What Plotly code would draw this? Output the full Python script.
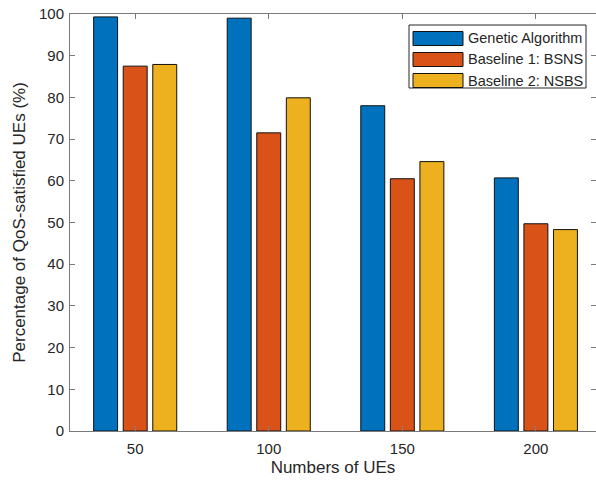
import plotly.graph_objects as go

ues = [50, 100, 150, 200]
ga = [99.3, 99.0, 78.0, 60.7]
bsns = [87.5, 71.5, 60.5, 49.7]
nsbs = [87.9, 79.9, 64.6, 48.3]
series_names = ["Genetic Algorithm", "Baseline 1: BSNS", "Baseline 2: NSBS"]
colors = ["#0072BD", "#D95319", "#EDB120"]
yticks = list(range(0, 101, 10))

FONT = "Liberation Sans, Arial, sans-serif"
TXT = "#262626"
AX = "#7a7a7a"
W, H = 596, 484
L, T, B = 70, 14, 53
PW, PH = W - L, H - T - B

fig = go.Figure()
for name, vals, col in zip(series_names, [ga, bsns, nsbs], colors):
    fig.add_trace(go.Bar(x=ues, y=vals, name=name,
                         marker=dict(color=col, line=dict(color="#111111", width=1)),
                         showlegend=False))

fig.update_layout(
    width=W, height=H,
    margin=dict(l=L, r=0, t=T, b=B),
    paper_bgcolor="white", plot_bgcolor="white",
    barmode="group", bargap=0.336, bargroupgap=0.19,
    font=dict(family=FONT, color=TXT, size=15),
    xaxis=dict(range=[25.6, 222.5], tickvals=ues, ticktext=[str(u) for u in ues],
               ticks="inside", ticklen=5, tickcolor=AX, showline=True, linecolor=AX, linewidth=1,
               mirror="ticks", showgrid=False, zeroline=False, ticklabelstandoff=4,
               title=dict(text="Numbers of UEs", font=dict(size=17, color=TXT), standoff=5),
               tickfont=dict(size=15, color=TXT)),
    yaxis=dict(range=[0, 100], tickvals=yticks, ticks="inside", ticklen=5, tickcolor=AX,
               showline=True, linecolor=AX, linewidth=1, mirror="ticks", showgrid=False, zeroline=False,
               ticklabelstandoff=2,
               title=dict(text="Percentage of QoS-satisfied UEs (%)", font=dict(size=17, color=TXT), standoff=9),
               tickfont=dict(size=15, color=TXT)),
)

def fx(x):
    return (x - L) / PW

def fy(y):
    return 1 - (y - T) / PH

lx0, lx1, ly0, ly1 = 409, 586, 25, 88
legend_shapes = [dict(type="rect", xref="paper", yref="paper",
                      x0=fx(lx0), x1=fx(lx1), y0=fy(ly0), y1=fy(ly1),
                      line=dict(color="#262626", width=1), fillcolor="white", layer="above")]
annotations = []
row_y = [38.5, 59.5, 80.5]
for name, col, yy in zip(series_names, colors, row_y):
    legend_shapes.append(dict(type="rect", xref="paper", yref="paper",
                              x0=fx(413), x1=fx(463), y0=fy(yy - 7), y1=fy(yy + 7),
                              line=dict(color="#111111", width=1), fillcolor=col, layer="above"))
    annotations.append(dict(xref="paper", yref="paper", x=fx(466), y=fy(yy),
                            text=name, showarrow=False, xanchor="left", yanchor="middle",
                            font=dict(size=14.5, color=TXT, family=FONT)))
fig.update_layout(shapes=legend_shapes, annotations=annotations)

fig.write_html("out.html")
